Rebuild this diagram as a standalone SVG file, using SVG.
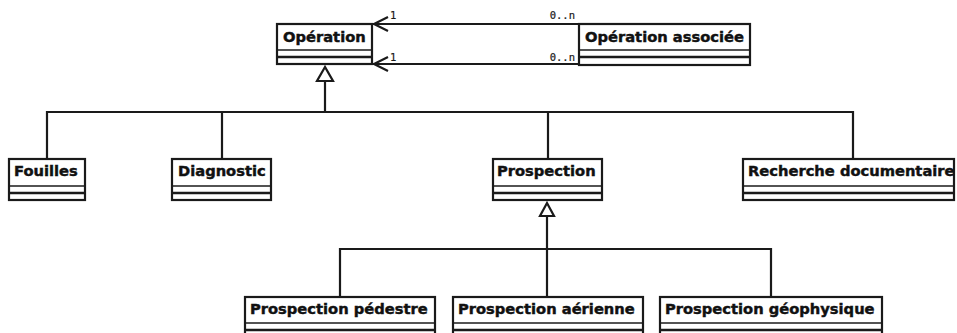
<svg xmlns="http://www.w3.org/2000/svg" width="957" height="333" viewBox="0 0 957 333">
  <style>
    .box { fill: #ffffff; stroke: #1a1a1a; stroke-width: 2.2; }
    .sep1 { stroke: #1a1a1a; stroke-width: 1.6; }
    .sep2 { stroke: #1a1a1a; stroke-width: 2.6; }
    .title { font-family: "DejaVu Sans", "Liberation Sans", sans-serif; font-weight: bold; font-size: 14.7px; fill: #111111; stroke: #111111; stroke-width: 0.45; }
    .mult { font-family: "DejaVu Sans Mono", "Liberation Mono", monospace; font-size: 10.5px; fill: #1a1a1a; stroke: #1a1a1a; stroke-width: 0.2; }
    .line { fill: none; stroke: #1a1a1a; stroke-width: 2.2; }
    .open { fill: none; stroke: #1a1a1a; stroke-width: 2.2; }
    .gen { fill: #ffffff; stroke: #1a1a1a; stroke-width: 2.2; }
  </style>

  <!-- connectors: associations and generalisations -->
  <g id="connectors">
    <!-- two associations between Opération associée and Opération -->
    <line class="line" x1="579" y1="24" x2="373" y2="24"/>
    <polyline class="open" points="388,17 374,24 388,31"/>
    <text class="mult" x="390" y="19">1</text>
    <text class="mult" x="575" y="19" text-anchor="end">0..n</text>

    <line class="line" x1="579" y1="64" x2="373" y2="64"/>
    <polyline class="open" points="388,57 374,64 388,71"/>
    <text class="mult" x="390" y="61">1</text>
    <text class="mult" x="575" y="61" text-anchor="end">0..n</text>

    <!-- generalisation to Opération -->
    <polyline class="line" points="47,159 47,112 853,112 853,159"/>
    <line class="line" x1="222" y1="112" x2="222" y2="159"/>
    <line class="line" x1="548" y1="112" x2="548" y2="159"/>
    <line class="line" x1="325" y1="112" x2="325" y2="81"/>
    <polygon class="gen" points="325,67 317,81 333,81"/>

    <!-- generalisation to Prospection -->
    <polyline class="line" points="340,297 340,249 771,249 771,297"/>
    <line class="line" x1="547" y1="297" x2="547" y2="216"/>
    <polygon class="gen" points="547,203 540,216 554,216"/>
  </g>

  <g id="operation">
    <rect class="box" x="277" y="24" width="95" height="40"/>
    <line class="sep1" x1="277" y1="50" x2="372" y2="50"/>
    <line class="sep2" x1="277" y1="57" x2="372" y2="57"/>
    <text class="title" x="283" y="42">Opération</text>
  </g>

  <g id="operation-associee">
    <rect class="box" x="579" y="24" width="171" height="41"/>
    <line class="sep1" x1="579" y1="50" x2="750" y2="50"/>
    <line class="sep2" x1="579" y1="57" x2="750" y2="57"/>
    <text class="title" x="585" y="42">Opération associée</text>
  </g>

  <g id="fouilles">
    <rect class="box" x="9" y="159" width="76" height="41"/>
    <line class="sep1" x1="9" y1="186" x2="85" y2="186"/>
    <line class="sep2" x1="9" y1="193" x2="85" y2="193"/>
    <text class="title" x="14" y="176">Fouilles</text>
  </g>

  <g id="diagnostic">
    <rect class="box" x="172" y="159" width="99" height="41"/>
    <line class="sep1" x1="172" y1="186" x2="271" y2="186"/>
    <line class="sep2" x1="172" y1="193" x2="271" y2="193"/>
    <text class="title" x="178" y="176">Diagnostic</text>
  </g>

  <g id="prospection">
    <rect class="box" x="493" y="159" width="109" height="41"/>
    <line class="sep1" x1="493" y1="186" x2="602" y2="186"/>
    <line class="sep2" x1="493" y1="193" x2="602" y2="193"/>
    <text class="title" x="497" y="176">Prospection</text>
  </g>

  <g id="recherche-documentaire">
    <rect class="box" x="743" y="159" width="211" height="41"/>
    <line class="sep1" x1="743" y1="186" x2="954" y2="186"/>
    <line class="sep2" x1="743" y1="193" x2="954" y2="193"/>
    <text class="title" x="748" y="176">Recherche documentaire</text>
  </g>

  <g id="prospection-pedestre">
    <rect class="box" x="245" y="297" width="190" height="41"/>
    <line class="sep1" x1="245" y1="323" x2="435" y2="323"/>
    <line class="sep2" x1="245" y1="330" x2="435" y2="330"/>
    <text class="title" x="250" y="314">Prospection pédestre</text>
  </g>

  <g id="prospection-aerienne">
    <rect class="box" x="453" y="297" width="190" height="41"/>
    <line class="sep1" x1="453" y1="323" x2="643" y2="323"/>
    <line class="sep2" x1="453" y1="330" x2="643" y2="330"/>
    <text class="title" x="458" y="314">Prospection aérienne</text>
  </g>

  <g id="prospection-geophysique">
    <rect class="box" x="660" y="297" width="222" height="41"/>
    <line class="sep1" x1="660" y1="323" x2="882" y2="323"/>
    <line class="sep2" x1="660" y1="330" x2="882" y2="330"/>
    <text class="title" x="665" y="314">Prospection géophysique</text>
  </g>
</svg>
